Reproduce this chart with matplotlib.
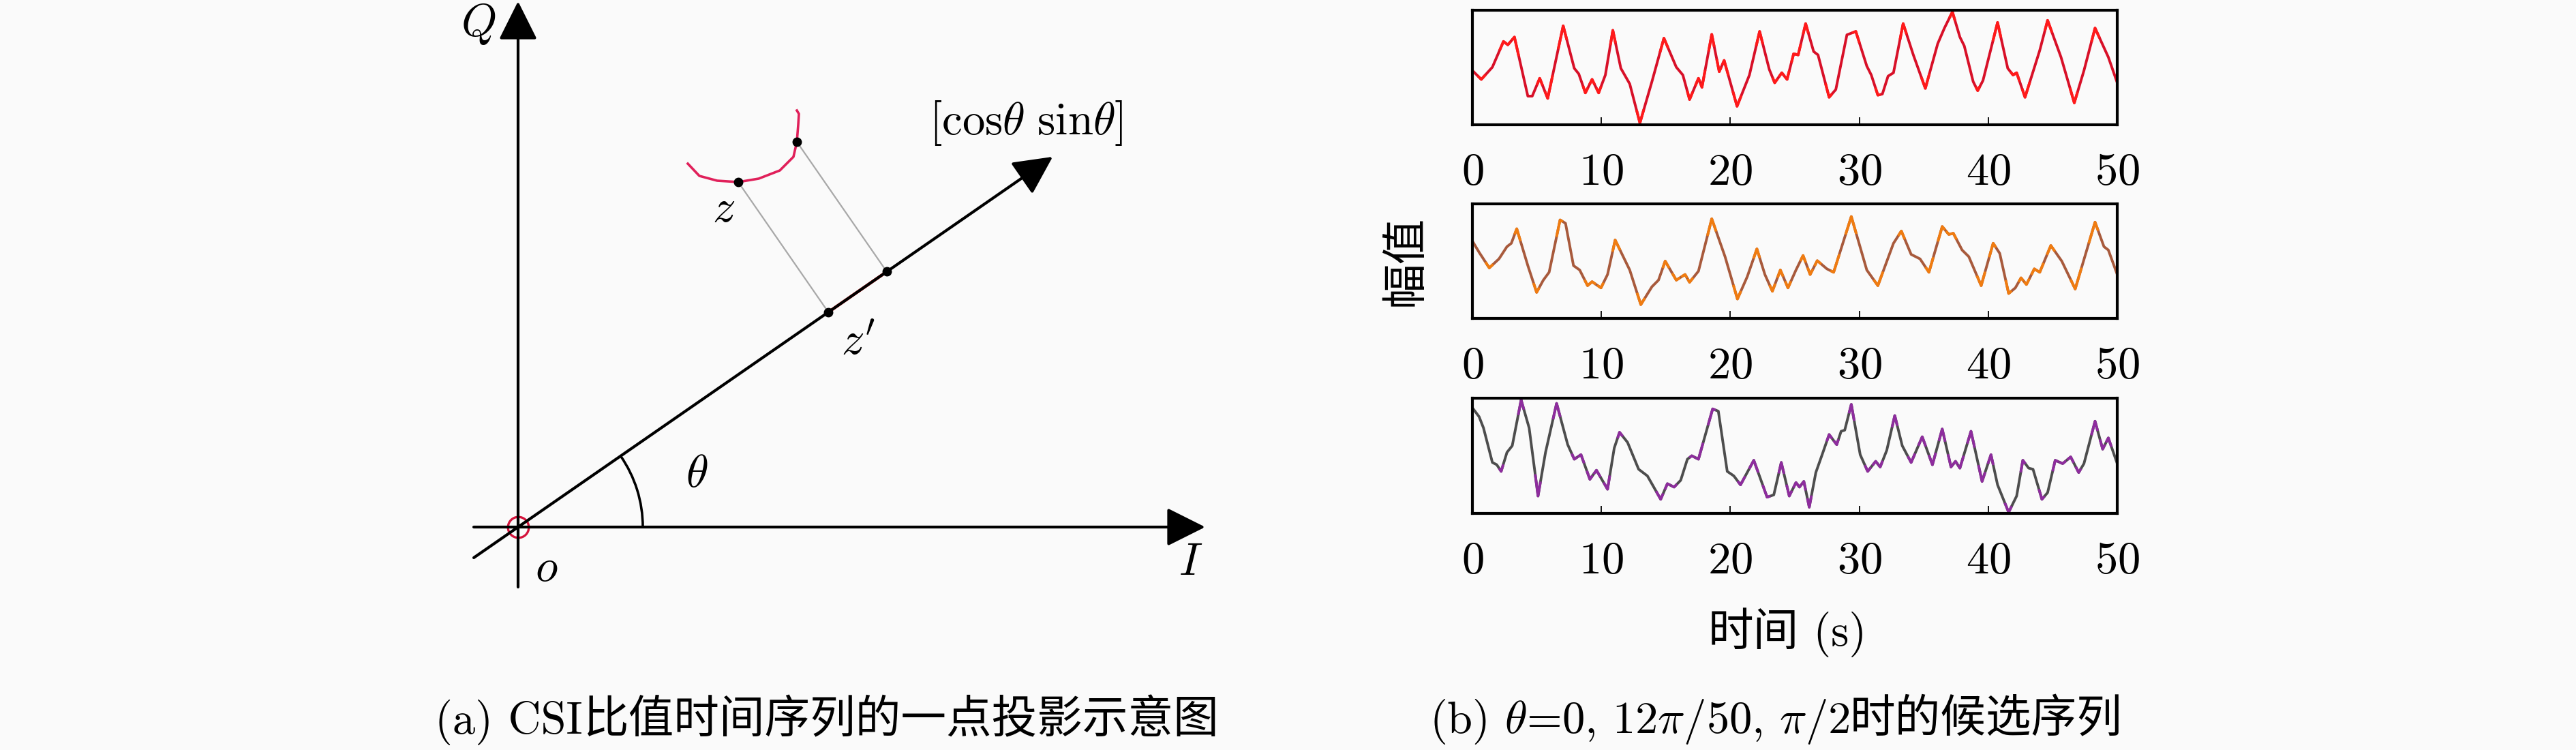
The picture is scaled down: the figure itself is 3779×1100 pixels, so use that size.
import numpy as np
import matplotlib
matplotlib.use("Agg")
import matplotlib.pyplot as plt
from matplotlib.patches import Arc
from matplotlib.offsetbox import TextArea, HPacker, AnnotationBbox

plt.rcParams['font.family'] = ['cmr10', 'Noto Sans CJK SC']
plt.rcParams['mathtext.fontset'] = 'cm'
plt.rcParams['axes.unicode_minus'] = False
plt.rcParams['axes.formatter.use_mathtext'] = True

CJK = 'Noto Sans CJK SC'
FS = 48
BG = '#fafafa'

############### data: (a) projection sketch #############
# units: 1 unit = 100 px, origin o at (0, 0)
theta_deg = 34.7
curve_x = [2.49, 2.66, 2.92, 3.23, 3.53, 3.84, 4.04, 4.09, 4.11, 4.12, 4.09]
curve_y = [5.33, 5.15, 5.08, 5.06, 5.11, 5.23, 5.43, 5.65, 5.90, 6.06, 6.11]
z_idx = 3      # point z
w_idx = 7      # second sample on the curve

############### data: (b) candidate series (normalised amplitude) #############
t1 = [0, 0.69, 1.55, 2.41, 2.75, 3.26, 4.30, 4.64, 5.22, 5.84, 7.04, 7.90, 8.25, 8.76, 9.28,
      9.79, 10.31, 10.89, 11.51, 12.20, 12.99, 13.92, 14.85, 15.81, 16.32, 16.84, 17.53, 17.80,
      18.56, 19.14, 19.52, 20.52, 21.48, 22.27, 23.02, 23.44, 23.99, 24.40, 24.91, 25.26, 25.84,
      26.46, 26.80, 27.66, 28.18, 29.04, 29.73, 30.58, 30.93, 31.44, 31.79, 32.23, 32.65, 33.40,
      34.19, 35.12, 36.08, 36.60, 37.22, 37.80, 38.14, 38.83, 39.18, 39.59, 40.72, 41.51, 41.92,
      42.20, 42.85, 43.99, 44.60, 45.64, 46.67, 47.42, 48.28, 49.31, 50.0]
v1 = [0.473, 0.394, 0.503, 0.732, 0.702, 0.771, 0.245, 0.245, 0.404, 0.225, 0.871, 0.493, 0.443,
      0.274, 0.394, 0.274, 0.433, 0.831, 0.493, 0.354, 0.006, 0.374, 0.761, 0.503, 0.433, 0.215,
      0.404, 0.324, 0.795, 0.463, 0.563, 0.155, 0.433, 0.821, 0.483, 0.364, 0.453, 0.394, 0.622,
      0.612, 0.891, 0.642, 0.612, 0.235, 0.304, 0.791, 0.821, 0.513, 0.433, 0.254, 0.264, 0.423,
      0.453, 0.891, 0.612, 0.314, 0.712, 0.851, 0.995, 0.771, 0.692, 0.374, 0.294, 0.384, 0.901,
      0.493, 0.433, 0.453, 0.235, 0.652, 0.920, 0.592, 0.185, 0.473, 0.851, 0.592, 0.364]

t2 = [0, 0.52, 1.31, 2.06, 2.68, 3.02, 3.44, 4.30, 4.98, 5.50, 5.95, 6.80, 7.22, 7.84, 8.32, 8.93,
      9.28, 9.97, 10.48, 11.07, 12.20, 13.06, 13.92, 14.43, 14.95, 15.81, 16.49, 16.84, 17.53,
      18.56, 19.59, 20.55, 21.31, 22.06, 22.68, 23.26, 23.88, 24.47, 25.09, 25.64, 26.19, 26.74,
      27.49, 28.01, 29.38, 30.58, 31.44, 32.65, 33.26, 34.02, 34.71, 35.40, 36.43, 36.94, 37.29,
      37.97, 38.49, 39.45, 40.38, 40.89, 41.58, 42.10, 42.54, 42.96, 43.57, 43.99, 44.85, 45.70,
      46.74, 48.28, 48.97, 49.31, 50.0]
v2 = [0.679, 0.579, 0.440, 0.520, 0.629, 0.659, 0.788, 0.460, 0.222, 0.331, 0.401, 0.867, 0.837,
      0.460, 0.421, 0.282, 0.317, 0.262, 0.381, 0.688, 0.421, 0.113, 0.272, 0.331, 0.500, 0.331,
      0.381, 0.312, 0.411, 0.877, 0.540, 0.163, 0.361, 0.609, 0.381, 0.232, 0.421, 0.262, 0.421,
      0.550, 0.381, 0.504, 0.431, 0.401, 0.897, 0.421, 0.282, 0.659, 0.768, 0.560, 0.520, 0.401,
      0.808, 0.738, 0.748, 0.599, 0.540, 0.282, 0.659, 0.569, 0.212, 0.262, 0.351, 0.292, 0.431,
      0.401, 0.639, 0.500, 0.252, 0.847, 0.629, 0.599, 0.381]

t3 = [0, 0.52, 0.86, 1.55, 1.89, 2.23, 2.68, 3.09, 3.78, 4.40, 5.09, 5.67, 6.53, 7.39, 7.90, 8.42,
      9.11, 9.62, 10.48, 11.00, 11.41, 12.03, 12.89, 13.57, 14.60, 15.12, 15.64, 16.15, 16.67,
      17.01, 17.53, 18.63, 19.07, 19.76, 20.27, 20.79, 21.82, 22.85, 23.37, 23.95, 24.57, 25.09,
      25.36, 25.70, 26.12, 26.63, 27.15, 27.66, 28.25, 28.59, 28.87, 29.38, 30.07, 30.65, 31.27,
      31.62, 32.13, 32.75, 33.33, 34.02, 34.88, 35.67, 36.43, 37.11, 37.46, 37.80, 38.66, 39.52,
      40.21, 40.72, 41.58, 42.20, 42.68, 43.13, 43.47, 44.16, 44.60, 45.19, 45.77, 46.39, 47.01,
      47.42, 48.28, 48.87, 49.31, 50.0]
v3 = [0.925, 0.846, 0.747, 0.441, 0.421, 0.362, 0.530, 0.589, 0.994, 0.747, 0.144, 0.530, 0.964,
      0.599, 0.470, 0.510, 0.292, 0.372, 0.204, 0.569, 0.708, 0.619, 0.381, 0.322, 0.115, 0.253,
      0.223, 0.283, 0.470, 0.500, 0.470, 0.915, 0.895, 0.362, 0.322, 0.243, 0.460, 0.134, 0.154,
      0.441, 0.144, 0.263, 0.223, 0.273, 0.045, 0.352, 0.520, 0.688, 0.599, 0.717, 0.727, 0.955,
      0.510, 0.362, 0.451, 0.401, 0.549, 0.856, 0.589, 0.441, 0.668, 0.421, 0.737, 0.401, 0.451,
      0.391, 0.717, 0.273, 0.510, 0.243, 0.0, 0.144, 0.460, 0.391, 0.381, 0.115, 0.174, 0.460,
      0.431, 0.490, 0.352, 0.431, 0.806, 0.559, 0.658, 0.431]

xticks = [0, 10, 20, 30, 40, 50]

fig = plt.figure(figsize=(37.8, 11), dpi=100, facecolor=BG)

############### (a) ##############
ax = fig.add_axes([0, 0, 0.5, 1])
ax.set_xlim(-7.60, 11.30)
ax.set_ylim(-3.27, 7.73)
ax.axis('off')

arrow = dict(arrowstyle='-|>,head_length=0.4,head_width=0.2', mutation_scale=88,
             lw=3.0, color='k', shrinkA=0, shrinkB=0)
ax.annotate('', xy=(0, 7.71), xytext=(0, -0.88), arrowprops=arrow)
ax.annotate('', xy=(10.08, 0), xytext=(-0.65, 0), arrowprops=arrow)

th = np.radians(theta_deg)
u = np.array([np.cos(th), np.sin(th)])
ax.annotate('', xy=tuple(9.54 * u), xytext=tuple(-0.79 * u), arrowprops=arrow)

ax.add_patch(Arc((0, 0), 3.66, 3.66, theta1=0, theta2=theta_deg, lw=2.6, color='k'))

# curve and its projection
ax.plot(curve_x, curve_y, color='#e0205a', lw=2.6, solid_joinstyle='round')
pz = np.array([curve_x[z_idx], curve_y[z_idx]])
pw = np.array([curve_x[w_idx], curve_y[w_idx]])
qz = pz.dot(u) * u
qw = pw.dot(u) * u
ax.plot([pz[0], qz[0]], [pz[1], qz[1]], color='#a8a8a8', lw=1.6)
ax.plot([pw[0], qw[0]], [pw[1], qw[1]], color='#a8a8a8', lw=1.6)
ax.plot([qz[0], qw[0]], [qz[1], qw[1]], color='#ee1010', lw=3.2)
ax.plot([pz[0], pw[0], qz[0], qw[0]], [pz[1], pw[1], qz[1], qw[1]], 'o', color='k', ms=9)
ax.plot(0, 0, 'o', ms=22, mfc='none', mec='#d4143c', mew=2.4)

ax.text(-0.58, 7.38, r'$Q$', fontsize=FS, ha='center', va='center')
ax.text(9.87, -0.53, r'$I$', fontsize=FS, ha='center', va='center')
ax.text(0.42, -0.62, r'$o$', fontsize=FS, ha='center', va='center')
ax.text(2.62, 0.76, r'$\theta$', fontsize=FS, ha='center', va='center')
ax.text(3.02, 4.65, r'$z$', fontsize=FS, ha='center', va='center')
ax.text(4.99, 2.70, r'$z^\prime$', fontsize=FS, ha='center', va='center')
ax.text(7.45, 5.93, r'$[\mathrm{cos}\theta\ \mathrm{sin}\theta]$', fontsize=FS,
        ha='center', va='center')

############### (b) ##############
def draw_series(ax, t, v, base, accent):
    t = np.asarray(t)
    v = np.asarray(v)
    ax.plot(t, v, color=base, lw=2.8, solid_joinstyle='round')
    for i in range(1, len(t) - 1):
        if (v[i] - v[i - 1]) * (v[i + 1] - v[i]) < 0:
            a = 0.3
            xs = [t[i] - a * (t[i] - t[i - 1]), t[i], t[i] + a * (t[i + 1] - t[i])]
            ys = [v[i] - a * (v[i] - v[i - 1]), v[i], v[i] + a * (v[i + 1] - v[i])]
            ax.plot(xs, ys, color=accent, lw=2.8, solid_joinstyle='round')

boxes = [[2160 / 3780, 917 / 1100, 946 / 3780, 168 / 1100],
         [2160 / 3780, 633 / 1100, 946 / 3780, 168 / 1100],
         [2160 / 3780, 347 / 1100, 946 / 3780, 169 / 1100]]
series = [(t1, v1, '#d81028', '#ff1a1a'),
          (t2, v2, '#a85a3c', '#f07c10'),
          (t3, v3, '#4d4d4d', '#8e2c9e')]
for box, (t, v, c1, c2) in zip(boxes, series):
    a = fig.add_axes(box, facecolor=BG)
    draw_series(a, t, v, c1, c2)
    a.set_xlim(0, 50)
    a.set_ylim(-0.01, 1.01)
    a.set_xticks(xticks)
    a.set_yticks([])
    a.tick_params(axis='x', direction='in', length=8, width=1.3, pad=30, labelsize=FS)
    for s in a.spines.values():
        s.set_linewidth(3)

fig.text(2062 / 3780, 1 - 382 / 1100, '幅值', rotation=90, ha='center', va='center',
         family=CJK, fontsize=FS)


def caption(parts, x, y):
    boxes = [TextArea(s, textprops=dict(family=f, fontsize=FS)) for s, f in parts]
    pack = HPacker(children=boxes, align='baseline', pad=0, sep=0)
    ab = AnnotationBbox(pack, (x, 1100 - y), xycoords='figure pixels', frameon=False,
                        box_alignment=(0.5, 0.5))
    fig.add_artist(ab)


caption([('时间', CJK), (' (s)', 'cmr10')], 2622, 929)
caption([('(a) CSI', 'cmr10'), ('比值时间序列的一点投影示意图', CJK)], 1213, 1058)
caption([(r'(b) $\theta$=0, 12$\pi$/50, $\pi$/2', 'cmr10'), ('时的候选序列', CJK)], 2605, 1058)

fig.savefig('out.png', dpi=100, facecolor=BG)
